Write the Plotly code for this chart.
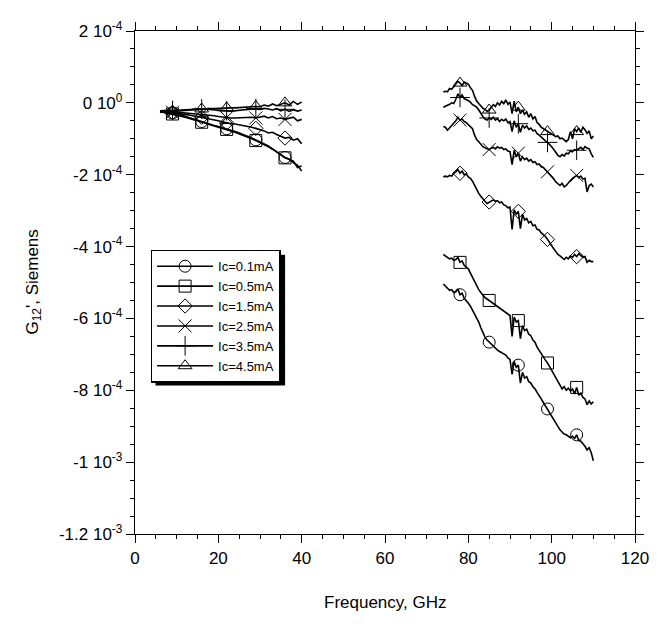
import plotly.graph_objects as go

# Frequency grids (GHz)
F_LEFT = [6, 7, 8, 9, 10, 11, 12, 13, 14, 15, 16, 17, 18, 19, 20, 21, 22, 23, 24, 25,
          26, 27, 28, 29, 30, 31, 32, 33, 34, 35, 36, 37, 38, 39, 40]
F_RIGHT = [74.0, 74.5, 75.0, 75.5, 76.0, 76.5, 77.0, 77.5, 78.0, 78.5, 79.0, 79.5,
           80.0, 80.5, 81.0, 81.5, 82.0, 82.5, 83.0, 83.5, 84.0, 84.5, 85.0, 85.5,
           86.0, 86.5, 87.0, 87.5, 88.0, 88.5, 89.0, 89.5, 90.0, 90.5, 91.0, 91.5,
           92.0, 92.5, 93.0, 93.5, 94.0, 94.5, 95.0, 95.5, 96.0, 96.5, 97.0, 97.5,
           98.0, 98.5, 99.0, 99.5, 100.0, 100.5, 101.0, 101.5, 102.0, 102.5, 103.0, 103.5,
           104.0, 104.5, 105.0, 105.5, 106.0, 106.5, 107.0, 107.5, 108.0, 108.5, 109.0, 109.5,
           110.0]

# G12' values in units of 1e-4 S, low-frequency band
L_01 = [-0.22, -0.24, -0.26, -0.28, -0.31, -0.34, -0.37, -0.41, -0.45, -0.49, -0.52, -0.56,
        -0.60, -0.63, -0.66, -0.69, -0.72, -0.76, -0.80, -0.84, -0.88, -0.93, -0.98, -1.03,
        -1.08, -1.14, -1.20, -1.28, -1.35, -1.44, -1.52, -1.58, -1.62, -1.80, -1.76]
L_05 = [-0.25, -0.27, -0.29, -0.31, -0.34, -0.37, -0.40, -0.43, -0.47, -0.50, -0.54, -0.57,
        -0.61, -0.64, -0.67, -0.70, -0.74, -0.78, -0.82, -0.86, -0.90, -0.95, -1.00, -1.05,
        -1.10, -1.16, -1.22, -1.29, -1.36, -1.45, -1.53, -1.57, -1.66, -1.74, -1.90]
L_15 = [-0.24, -0.25, -0.26, -0.27, -0.29, -0.30, -0.32, -0.34, -0.36, -0.38, -0.40, -0.42,
        -0.44, -0.47, -0.50, -0.53, -0.56, -0.58, -0.59, -0.61, -0.63, -0.66, -0.68, -0.71,
        -0.74, -0.78, -0.84, -0.82, -0.88, -0.92, -0.98, -0.96, -1.04, -1.00, -1.14]
L_25 = [-0.24, -0.24, -0.25, -0.26, -0.26, -0.27, -0.28, -0.29, -0.30, -0.30, -0.31, -0.32,
        -0.34, -0.36, -0.38, -0.40, -0.41, -0.42, -0.42, -0.41, -0.40, -0.41, -0.40, -0.42,
        -0.40, -0.37, -0.42, -0.38, -0.44, -0.42, -0.46, -0.44, -0.40, -0.50, -0.46]
L_35 = [-0.22, -0.22, -0.21, -0.21, -0.20, -0.20, -0.19, -0.18, -0.18, -0.17, -0.17, -0.18,
        -0.19, -0.20, -0.21, -0.22, -0.22, -0.23, -0.22, -0.21, -0.20, -0.18, -0.17, -0.16,
        -0.18, -0.15, -0.17, -0.20, -0.16, -0.22, -0.18, -0.24, -0.19, -0.23, -0.20]
L_45 = [-0.26, -0.25, -0.24, -0.23, -0.22, -0.21, -0.20, -0.19, -0.18, -0.18, -0.17, -0.17,
        -0.16, -0.16, -0.15, -0.15, -0.14, -0.14, -0.14, -0.13, -0.12, -0.11, -0.12, -0.10,
        -0.11, -0.06, -0.09, -0.03, -0.08, -0.04, 0.00, -0.06, 0.04, -0.04, 0.02]

# G12' values in units of 1e-4 S, high-frequency band
R_01 = [-5.04, -5.10, -5.16, -5.22, -5.20, -5.28, -5.26, -5.18, -5.34, -5.30, -5.44, -5.50,
        -5.58, -5.66, -5.76, -5.86, -5.96, -6.10, -6.26, -6.40, -6.52, -6.60, -6.66, -6.72,
        -6.78, -6.84, -6.88, -6.92, -6.96, -7.00, -7.02, -7.10, -7.14, -7.56, -7.20, -7.36,
        -7.30, -7.80, -7.50, -7.66, -7.62, -7.76, -7.80, -7.90, -7.96, -8.06, -8.14, -8.24,
        -8.34, -8.44, -8.52, -8.62, -8.72, -8.80, -8.92, -9.02, -9.10, -9.16, -9.22, -9.24,
        -9.28, -9.32, -9.28, -9.34, -9.24, -9.40, -9.42, -9.48, -9.56, -9.66, -9.60, -9.74,
        -9.96]
R_05 = [-4.22, -4.26, -4.30, -4.34, -4.32, -4.38, -4.36, -4.30, -4.44, -4.40, -4.52, -4.56,
        -4.62, -4.74, -4.86, -5.00, -5.10, -5.20, -5.28, -5.36, -5.42, -5.46, -5.50, -5.54,
        -5.58, -5.62, -5.66, -5.70, -5.74, -5.78, -5.82, -5.88, -5.92, -6.50, -5.96, -6.10,
        -6.06, -6.56, -6.20, -6.34, -6.30, -6.44, -6.48, -6.60, -6.66, -6.80, -6.90, -7.00,
        -7.08, -7.16, -7.24, -7.34, -7.44, -7.54, -7.64, -7.74, -7.82, -7.96, -7.90, -8.00,
        -7.94, -8.02, -7.96, -8.10, -7.92, -8.14, -8.08, -8.20, -8.24, -8.40, -8.30, -8.38,
        -8.32]
R_15 = [-2.06, -2.04, -2.06, -2.02, -2.04, -1.96, -1.92, -1.86, -1.96, -1.90, -2.00, -1.98,
        -2.06, -2.10, -2.18, -2.30, -2.42, -2.52, -2.60, -2.68, -2.74, -2.80, -2.76, -2.74,
        -2.70, -2.74, -2.72, -2.78, -2.76, -2.84, -2.86, -2.92, -2.90, -3.52, -2.98, -3.10,
        -3.02, -3.50, -3.10, -3.26, -3.22, -3.34, -3.30, -3.42, -3.40, -3.52, -3.54, -3.62,
        -3.66, -3.72, -3.80, -3.90, -3.98, -4.06, -4.14, -4.22, -4.26, -4.32, -4.36, -4.30,
        -4.34, -4.26, -4.30, -4.22, -4.28, -4.20, -4.24, -4.30, -4.28, -4.44, -4.38, -4.42,
        -4.42]
R_25 = [-0.66, -0.68, -0.76, -0.70, -0.62, -0.58, -0.50, -0.40, -0.48, -0.45, -0.52, -0.55,
        -0.60, -0.65, -0.72, -0.90, -1.02, -1.08, -1.16, -1.22, -1.25, -1.28, -1.30, -1.26,
        -1.24, -1.28, -1.22, -1.26, -1.24, -1.30, -1.28, -1.34, -1.36, -1.72, -1.32, -1.50,
        -1.40, -1.62, -1.50, -1.58, -1.54, -1.62, -1.58, -1.66, -1.64, -1.72, -1.70, -1.78,
        -1.80, -1.86, -1.92, -1.98, -2.04, -2.12, -2.20, -2.26, -2.30, -2.24, -2.34, -2.30,
        -2.22, -2.16, -2.10, -2.06, -2.02, -2.08, -2.04, -2.12, -2.10, -2.48, -2.30, -2.26,
        -2.34]
R_35 = [-0.12, -0.10, -0.08, -0.04, 0.00, -0.02, 0.10, 0.25, 0.15, 0.22, 0.12, 0.10,
        0.06, 0.02, -0.05, -0.08, -0.12, -0.20, -0.30, -0.38, -0.45, -0.48, -0.42, -0.46,
        -0.40, -0.48, -0.44, -0.52, -0.46, -0.50, -0.45, -0.55, -0.52, -0.80, -0.50, -0.68,
        -0.58, -0.82, -0.62, -0.70, -0.64, -0.74, -0.70, -0.78, -0.76, -0.86, -0.90, -0.96,
        -1.00, -1.06, -1.10, -1.15, -1.22, -1.30, -1.38, -1.46, -1.50, -1.44, -1.48, -1.40,
        -1.42, -1.34, -1.36, -1.30, -1.32, -1.28, -1.24, -1.30, -1.22, -1.26, -1.28, -1.42,
        -1.52]
R_45 = [0.30, 0.32, 0.31, 0.40, 0.38, 0.45, 0.50, 0.60, 0.55, 0.48, 0.58, 0.56,
        0.52, 0.42, 0.35, 0.18, 0.05, -0.02, -0.08, -0.15, -0.18, -0.24, -0.20, -0.12,
        -0.05, -0.10, 0.00, -0.06, 0.04, -0.02, 0.08, -0.04, 0.02, -0.30, 0.05, -0.25,
        -0.12, -0.30, -0.20, -0.32, -0.25, -0.40, -0.30, -0.45, -0.38, -0.55, -0.60, -0.68,
        -0.72, -0.76, -0.80, -0.84, -0.88, -0.90, -0.94, -0.92, -1.00, -0.98, -1.04, -1.08,
        -1.02, -0.80, -1.00, -0.72, -0.80, -0.70, -0.82, -0.68, -0.75, -0.85, -0.78, -1.00,
        -0.92]

SERIES_NAMES = ["Ic=0.1mA", "Ic=0.5mA", "Ic=1.5mA", "Ic=2.5mA", "Ic=3.5mA", "Ic=4.5mA"]
LEFT = [L_01, L_05, L_15, L_25, L_35, L_45]
RIGHT = [R_01, R_05, R_15, R_25, R_35, R_45]
SYMBOLS = ["circle-open", "square-open", "diamond-open", "x-thin-open", "cross-thin-open",
           "triangle-up-open"]
SIZES = [12, 12, 11, 13, 14, 12]

# indices of points carrying a symbol
MARK_LEFT = [3, 10, 16, 23, 30]
MARK_RIGHT = [8, 22, 36, 50, 64]

Y_TICKVALS = [2e-4, 0, -2e-4, -4e-4, -6e-4, -8e-4, -1e-3, -1.2e-3]
Y_TICKTEXT = ["2 10<sup>-4</sup>", "0 10<sup>0</sup>", "-2 10<sup>-4</sup>",
              "-4 10<sup>-4</sup>", "-6 10<sup>-4</sup>", "-8 10<sup>-4</sup>",
              "-1 10<sup>-3</sup>", "-1.2 10<sup>-3</sup>"]

SCALE = 1e-4
FONT = "Arial, Liberation Sans, sans-serif"

# figure geometry (page adds an 8px body margin)
W, H = 652, 615
ML, MR, MT, MB = 127, 12, 11, 89
PW, PH = W - ML - MR, H - MT - MB


def px_x(p):
    return (p - ML) / PW


def px_y(p):
    return (H - MB - p) / PH


fig = go.Figure()
for name, lv, rv, sym, sz in zip(SERIES_NAMES, LEFT, RIGHT, SYMBOLS, SIZES):
    line = dict(color="black", width=1.6)
    mk = dict(symbol=sym, size=sz, color="black", line=dict(color="black", width=1))
    for fx, vals, idx in ((F_LEFT, lv, MARK_LEFT), (F_RIGHT, rv, MARK_RIGHT)):
        fig.add_trace(go.Scatter(x=fx, y=[v * SCALE for v in vals], mode="lines",
                                 line=line, showlegend=False, hoverinfo="skip"))
        fig.add_trace(go.Scatter(x=[fx[i] for i in idx], y=[vals[i] * SCALE for i in idx],
                                 mode="markers", marker=mk, showlegend=False,
                                 hoverinfo="skip"))
    fig.add_trace(go.Scatter(x=[None], y=[None], mode="lines+markers", name=name,
                             line=line, marker=mk))

axis_common = dict(showline=True, linecolor="black", linewidth=1.3, mirror="ticks",
                   ticks="outside", ticklen=8, tickwidth=1, tickcolor="black",
                   showgrid=False, zeroline=False,
                   tickfont=dict(family=FONT, size=17, color="black"))

fig.update_xaxes(range=[0, 120], tickvals=[0, 20, 40, 60, 80, 100, 120],
                 minor=dict(dtick=5, ticks="outside", ticklen=4, tickcolor="black"),
                 **axis_common)
fig.update_yaxes(range=[-1.2e-3, 2e-4], tickvals=Y_TICKVALS, ticktext=Y_TICKTEXT,
                 minor=dict(dtick=5e-5, ticks="outside", ticklen=4, tickcolor="black"),
                 **axis_common)

LEG_L, LEG_T = 143, 235          # legend box top-left (px)
LEG_W, LEG_H = 133, 134          # estimated legend box size (px)
SH = 5                           # shadow offset (px)

fig.update_layout(
    width=W, height=H,
    margin=dict(l=ML, r=MR, t=MT, b=MB),
    plot_bgcolor="white", paper_bgcolor="white",
    font=dict(family=FONT, color="black"),
    legend=dict(x=px_x(LEG_L), y=px_y(LEG_T), xanchor="left", yanchor="top",
                bordercolor="black", borderwidth=1.5, bgcolor="white",
                font=dict(family=FONT, size=13, color="black"),
                itemwidth=56, tracegroupgap=0),
    annotations=[
        dict(text="Frequency, GHz", xref="paper", yref="paper", x=0.5, y=0,
             yshift=-80, showarrow=False, font=dict(family=FONT, size=17)),
        dict(text="G<sub>12</sub>', Siemens", xref="paper", yref="paper", x=0, y=0.5,
             xshift=-115, textangle=-90, showarrow=False, font=dict(family=FONT, size=17)),
    ],
    shapes=[dict(type="rect", xref="paper", yref="paper", layer="above",
                 x0=px_x(LEG_L + SH), x1=px_x(LEG_L + LEG_W + SH),
                 y0=px_y(LEG_T + LEG_H + SH), y1=px_y(LEG_T + SH),
                 fillcolor="black", line=dict(width=0))],
)

fig.write_html("out.html")
